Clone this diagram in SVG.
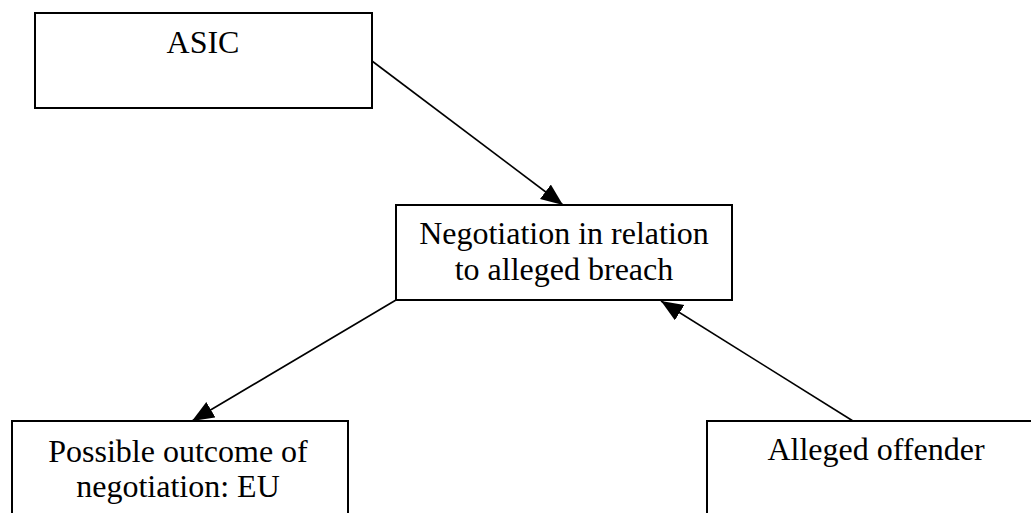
<svg xmlns="http://www.w3.org/2000/svg" width="1031" height="513" viewBox="0 0 1031 513">
<style>
.box{fill:#fff;stroke:#000;stroke-width:2}
.t{font-family:"Liberation Serif","Times New Roman",serif;font-size:32px;fill:#000;text-anchor:middle}
.c{stroke:#000;stroke-width:1.6;fill:none;marker-end:url(#ah)}
</style>
<defs>
<marker id="ah" markerUnits="userSpaceOnUse" markerWidth="24" markerHeight="20" refX="22" refY="9" orient="auto">
<path d="M0,0 L22,9 L0,18 z" fill="#000"/>
</marker>
</defs>
<rect width="1031" height="513" fill="#fff"/>
<g id="connectors">
<line class="c" x1="372" y1="61" x2="563" y2="205"/>
<line class="c" x1="396" y1="300" x2="192" y2="421"/>
<line class="c" x1="853" y1="421" x2="661" y2="301"/>
</g>
<g id="asic">
<rect class="box" x="35" y="13" width="337" height="95"/>
<text class="t" x="203" y="53">ASIC</text>
</g>
<g id="negotiation">
<rect class="box" x="396" y="205" width="336" height="95"/>
<text class="t" x="564" y="244">Negotiation in relation</text>
<text class="t" x="564" y="280">to alleged breach</text>
</g>
<g id="outcome">
<rect class="box" x="12" y="421" width="336" height="100"/>
<text class="t" x="178" y="462">Possible outcome of</text>
<text class="t" x="178" y="497">negotiation: EU</text>
</g>
<g id="offender">
<rect class="box" x="707" y="421" width="340" height="100"/>
<text class="t" x="876" y="460">Alleged offender</text>
</g>
</svg>
